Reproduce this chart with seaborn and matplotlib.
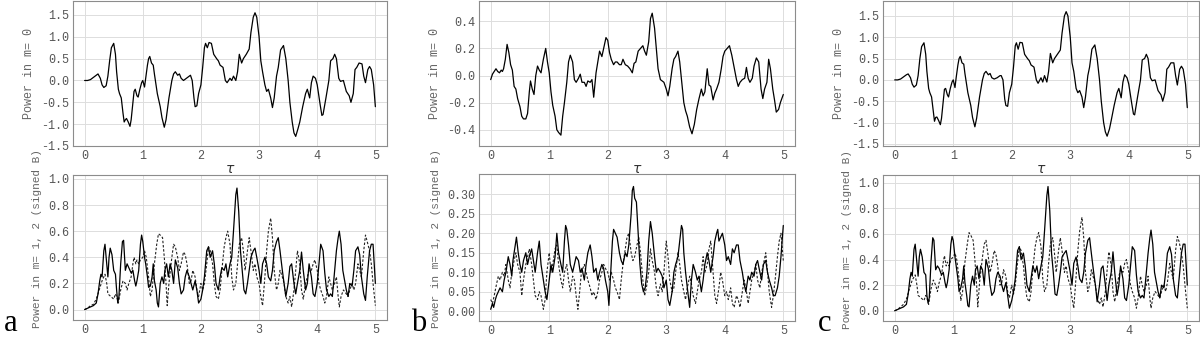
import matplotlib
matplotlib.use("Agg")
import matplotlib.pyplot as plt
import seaborn as sns
import pandas as pd
from matplotlib.ticker import FormatStrFormatter

# ---- data ----
# top row, panels a and c share the same time samples
tau_top_ac = [0, 0.05, 0.1, 0.15, 0.2, 0.23, 0.27, 0.3, 0.33, 0.37,
              0.4, 0.43, 0.46, 0.5, 0.53, 0.55, 0.58, 0.6, 0.63, 0.66,
              0.68, 0.7, 0.72, 0.75, 0.78, 0.8, 0.83, 0.85, 0.87, 0.9,
              0.92, 0.95, 0.98, 1.0, 1.03, 1.05, 1.08, 1.1, 1.12, 1.15,
              1.18, 1.2, 1.25, 1.3, 1.33, 1.37, 1.4, 1.45, 1.5, 1.53,
              1.56, 1.6, 1.63, 1.66, 1.7, 1.75, 1.8, 1.82, 1.85, 1.88,
              1.9, 1.93, 1.96, 2.0, 2.03, 2.06, 2.08, 2.11, 2.14, 2.18,
              2.22, 2.27, 2.3, 2.33, 2.38, 2.42, 2.45, 2.5, 2.53, 2.56,
              2.6, 2.63, 2.66, 2.7, 2.73, 2.78, 2.83, 2.86, 2.9, 2.93,
              2.96, 3.0, 3.03, 3.06, 3.1, 3.13, 3.16, 3.2, 3.23, 3.26,
              3.3, 3.33, 3.37, 3.42, 3.46, 3.5, 3.53, 3.57, 3.6, 3.63,
              3.67, 3.7, 3.75, 3.8, 3.83, 3.87, 3.9, 3.93, 3.97, 4.0,
              4.05, 4.08, 4.1, 4.15, 4.2, 4.23, 4.27, 4.3, 4.33, 4.37,
              4.4, 4.45, 4.5, 4.55, 4.58, 4.62, 4.65, 4.68, 4.72, 4.77,
              4.8, 4.83, 4.87, 4.9, 4.93, 4.97, 5.0]

a_m0 = [0.0, 0.0, 0.02, 0.07, 0.12, 0.15, 0.05, -0.1, -0.16, -0.12,
        0.1, 0.45, 0.75, 0.85, 0.6, 0.2, -0.2, -0.3, -0.4, -0.75,
        -0.95, -0.9, -0.87, -0.95, -1.05, -0.9, -0.5, -0.25, -0.2, -0.35,
        -0.38, -0.2, -0.05, 0.0, -0.15, 0.05, 0.35, 0.5, 0.55, 0.4,
        0.35, 0.15, -0.3, -0.6, -0.85, -1.07, -0.9, -0.4, 0.0, 0.15,
        0.2, 0.12, 0.15, 0.05, 0.0, 0.05, 0.1, 0.12, 0.0, -0.4,
        -0.6, -0.58, -0.3, -0.1, 0.3, 0.75, 0.85, 0.75, 0.87, 0.85,
        0.6, 0.5, 0.45, 0.35, 0.3, 0.0, -0.05, 0.05, 0.0, 0.1,
        0.0, 0.2, 0.6, 0.4, 0.5, 0.6, 0.72, 1.1, 1.45, 1.55,
        1.45, 1.0, 0.45, 0.2, -0.1, -0.25, -0.2, -0.4, -0.62, -0.4,
        0.1, 0.3, 0.7, 0.8, 0.5, 0.0, -0.5, -0.95, -1.2, -1.28,
        -1.1, -0.95, -0.6, -0.3, -0.2, -0.4, -0.05, 0.1, 0.05, -0.1,
        -0.55, -0.8, -0.78, -0.4, 0.0, 0.45, 0.5, 0.6, 0.5, 0.05,
        -0.02, 0.0, -0.25, -0.35, -0.5, -0.3, 0.25, 0.3, 0.4, 0.38,
        0.1, -0.05, 0.25, 0.32, 0.25, -0.1, -0.6]

c_m0 = [0.0, 0.0, 0.02, 0.07, 0.12, 0.14, 0.05, -0.1, -0.17, -0.12,
        0.1, 0.5, 0.78, 0.87, 0.6, 0.2, -0.2, -0.3, -0.4, -0.75,
        -0.97, -0.88, -0.87, -0.95, -1.05, -0.9, -0.5, -0.22, -0.2, -0.35,
        -0.4, -0.2, -0.05, 0.0, -0.18, 0.05, 0.35, 0.5, 0.55, 0.4,
        0.37, 0.15, -0.3, -0.6, -0.88, -1.1, -0.9, -0.4, 0.0, 0.15,
        0.2, 0.12, 0.15, 0.05, 0.02, 0.05, 0.1, 0.1, 0.0, -0.45,
        -0.6, -0.62, -0.3, -0.1, 0.3, 0.8, 0.87, 0.72, 0.88, 0.87,
        0.6, 0.5, 0.45, 0.35, 0.3, 0.0, -0.08, 0.05, -0.05, 0.1,
        -0.05, 0.2, 0.62, 0.4, 0.5, 0.6, 0.7, 1.1, 1.5, 1.6,
        1.5, 1.0, 0.4, 0.2, -0.2, -0.3, -0.25, -0.4, -0.65, -0.4,
        0.1, 0.3, 0.72, 0.82, 0.5, 0.0, -0.5, -1.0, -1.22, -1.32,
        -1.15, -0.95, -0.6, -0.3, -0.2, -0.42, -0.05, 0.12, 0.05, -0.1,
        -0.55, -0.8, -0.82, -0.4, 0.0, 0.47, 0.5, 0.6, 0.5, 0.05,
        -0.02, 0.0, -0.25, -0.35, -0.5, -0.3, 0.25, 0.3, 0.4, 0.4,
        0.1, -0.12, 0.25, 0.32, 0.25, -0.1, -0.65]

tau_top_b = [0.0, 0.03, 0.06, 0.09, 0.12, 0.15, 0.18, 0.2, 0.22, 0.25,
             0.28, 0.31, 0.34, 0.37, 0.4, 0.43, 0.46, 0.5, 0.53, 0.56,
             0.6, 0.63, 0.66, 0.68, 0.71, 0.74, 0.77, 0.8, 0.83, 0.86,
             0.9, 0.94, 0.97, 1.0, 1.03, 1.06, 1.1, 1.13, 1.16, 1.2,
             1.23, 1.26, 1.3, 1.33, 1.36, 1.4, 1.43, 1.46, 1.5, 1.53,
             1.56, 1.6, 1.63, 1.66, 1.7, 1.73, 1.76, 1.8, 1.83, 1.86,
             1.9, 1.93, 1.97, 2.0, 2.03, 2.06, 2.1, 2.13, 2.16, 2.2,
             2.23, 2.26, 2.3, 2.34, 2.38, 2.42, 2.45, 2.48, 2.52, 2.56,
             2.6, 2.63, 2.66, 2.7, 2.73, 2.76, 2.8, 2.83, 2.86, 2.9,
             2.93, 2.96, 3.0, 3.03, 3.06, 3.1, 3.13, 3.16, 3.2, 3.23,
             3.26, 3.3, 3.33, 3.36, 3.4, 3.44, 3.48, 3.52, 3.56, 3.6,
             3.63, 3.66, 3.7, 3.73, 3.76, 3.8, 3.83, 3.86, 3.9, 3.94,
             3.97, 4.0, 4.04, 4.08, 4.12, 4.16, 4.2, 4.23, 4.26, 4.3,
             4.34, 4.37, 4.4, 4.43, 4.47, 4.5, 4.54, 4.58, 4.62, 4.65,
             4.68, 4.72, 4.75, 4.78, 4.82, 4.85, 4.88, 4.92, 4.95, 5.0]

b_m0 = [-0.03, 0.01, 0.03, 0.05, 0.03, 0.02, 0.04, 0.03, 0.05, 0.12,
        0.23, 0.17, 0.08, 0.04, -0.08, -0.1, -0.17, -0.23, -0.3, -0.32,
        -0.32, -0.28, -0.12, -0.04, -0.1, -0.14, 0.0, 0.07, 0.04, 0.02,
        0.12, 0.2, 0.1, 0.02, -0.12, -0.22, -0.3, -0.4, -0.42, -0.44,
        -0.3, -0.2, -0.05, 0.1, 0.15, 0.1, -0.03, -0.05, -0.02, 0.01,
        -0.05, -0.05, -0.08, -0.04, -0.05, -0.03, -0.16, 0.02, 0.1, 0.18,
        0.14, 0.2, 0.28, 0.26, 0.17, 0.12, 0.08, 0.1, 0.1, 0.08,
        0.08, 0.12, 0.08, 0.07, 0.05, 0.02, 0.09, 0.1, 0.18, 0.2,
        0.22, 0.18, 0.15, 0.25, 0.42, 0.46, 0.35, 0.2, 0.05, -0.03,
        -0.04, -0.05, -0.1, -0.15, -0.08, 0.05, 0.12, 0.14, 0.18, 0.1,
        -0.03, -0.2, -0.26, -0.3, -0.38, -0.43, -0.36, -0.25, -0.17, -0.1,
        -0.15, -0.12, 0.05, -0.07, -0.08, -0.18, -0.13, -0.1, -0.05, 0.05,
        0.14, 0.18, 0.2, 0.22, 0.15, 0.06, -0.03, -0.08, -0.05, -0.03,
        -0.02, 0.06, -0.02, -0.05, -0.02, 0.07, 0.13, 0.1, -0.1, -0.17,
        -0.1, -0.05, 0.12, 0.05, -0.1, -0.18, -0.27, -0.25, -0.2, -0.14]

# bottom row, panels a and c: solid (m=1) and dashed (m=2)
tau_solid_ac = [0.0, 0.05, 0.1, 0.15, 0.2, 0.23, 0.26, 0.28, 0.3, 0.33,
                0.35, 0.37, 0.4, 0.42, 0.44, 0.47, 0.5, 0.53, 0.55, 0.57,
                0.59, 0.62, 0.65, 0.67, 0.7, 0.73, 0.76, 0.8, 0.83, 0.86,
                0.88, 0.9, 0.93, 0.96, 0.98, 1.0, 1.03, 1.05, 1.08, 1.1,
                1.13, 1.16, 1.18, 1.2, 1.23, 1.25, 1.27, 1.3, 1.33, 1.36,
                1.38, 1.41, 1.44, 1.47, 1.5, 1.53, 1.56, 1.6, 1.63, 1.66,
                1.7, 1.73, 1.76, 1.8, 1.83, 1.86, 1.9, 1.93, 1.96, 2.0,
                2.03, 2.06, 2.1, 2.13, 2.16, 2.2, 2.23, 2.26, 2.3, 2.33,
                2.36, 2.4, 2.43, 2.46, 2.5, 2.53, 2.56, 2.6, 2.62, 2.65,
                2.68, 2.71, 2.74, 2.77, 2.8, 2.83, 2.86, 2.9, 2.93, 2.96,
                3.0, 3.03, 3.06, 3.1, 3.13, 3.16, 3.2, 3.23, 3.26, 3.3,
                3.33, 3.36, 3.4, 3.43, 3.46, 3.5, 3.53, 3.56, 3.6, 3.63,
                3.66, 3.7, 3.73, 3.76, 3.8, 3.83, 3.86, 3.9, 3.93, 3.96,
                4.0, 4.03, 4.06, 4.1, 4.13, 4.16, 4.2, 4.23, 4.26, 4.3,
                4.33, 4.36, 4.38, 4.41, 4.44, 4.48, 4.5, 4.53, 4.56, 4.6,
                4.63, 4.66, 4.7, 4.73, 4.76, 4.8, 4.83, 4.86, 4.9, 4.93,
                4.96, 5.0]

a_m1 = [0.0, 0.01, 0.02, 0.03, 0.05, 0.12, 0.22, 0.27, 0.25, 0.45,
        0.5, 0.4, 0.25, 0.4, 0.47, 0.42, 0.3, 0.27, 0.15, 0.05,
        0.1, 0.35, 0.52, 0.53, 0.3, 0.35, 0.32, 0.28, 0.3, 0.22,
        0.18, 0.22, 0.3, 0.5, 0.57, 0.52, 0.4, 0.35, 0.25, 0.17,
        0.18, 0.25, 0.35, 0.22, 0.15, 0.05, 0.02, 0.2, 0.25, 0.2,
        0.3, 0.35, 0.25, 0.35, 0.3, 0.2, 0.38, 0.32, 0.2, 0.12,
        0.15, 0.25, 0.3, 0.25, 0.2, 0.15, 0.22, 0.15, 0.05, 0.08,
        0.15, 0.25, 0.45, 0.48, 0.4, 0.45, 0.35, 0.2, 0.15, 0.25,
        0.32, 0.3, 0.35, 0.25, 0.35, 0.4, 0.6, 0.88, 0.93, 0.75,
        0.45, 0.3, 0.15, 0.12, 0.2, 0.3, 0.4, 0.45, 0.47, 0.4,
        0.3, 0.2, 0.35, 0.4, 0.35, 0.25, 0.22, 0.3, 0.45, 0.52,
        0.55, 0.45, 0.3, 0.2, 0.1, 0.2, 0.33, 0.35, 0.2, 0.12,
        0.2, 0.3, 0.44, 0.3, 0.15, 0.2, 0.35, 0.25, 0.12, 0.1,
        0.2, 0.35, 0.5, 0.45, 0.28, 0.15, 0.1, 0.12, 0.1, 0.3,
        0.45, 0.55, 0.6, 0.5, 0.3, 0.2, 0.15, 0.1, 0.2, 0.18,
        0.3, 0.45, 0.48, 0.42, 0.25, 0.12, 0.07, 0.25, 0.45, 0.5,
        0.5, 0.2]

c_m1 = [0.0, 0.01, 0.02, 0.03, 0.05, 0.13, 0.25, 0.3, 0.27, 0.48,
        0.52, 0.42, 0.27, 0.42, 0.48, 0.42, 0.3, 0.28, 0.12, 0.06,
        0.1, 0.38, 0.57, 0.55, 0.32, 0.35, 0.33, 0.28, 0.3, 0.22,
        0.18, 0.22, 0.32, 0.52, 0.58, 0.55, 0.42, 0.35, 0.25, 0.15,
        0.18, 0.25, 0.35, 0.22, 0.12, 0.04, 0.03, 0.2, 0.27, 0.2,
        0.32, 0.35, 0.25, 0.35, 0.32, 0.2, 0.4, 0.33, 0.2, 0.12,
        0.15, 0.25, 0.3, 0.27, 0.2, 0.15, 0.22, 0.12, 0.02, 0.08,
        0.15, 0.25, 0.47, 0.5, 0.4, 0.45, 0.35, 0.2, 0.15, 0.25,
        0.35, 0.3, 0.35, 0.25, 0.35, 0.42, 0.62, 0.9, 0.97, 0.78,
        0.45, 0.3, 0.13, 0.12, 0.2, 0.3, 0.42, 0.45, 0.47, 0.4,
        0.3, 0.2, 0.37, 0.42, 0.35, 0.25, 0.22, 0.3, 0.45, 0.55,
        0.57, 0.45, 0.3, 0.2, 0.07, 0.2, 0.33, 0.35, 0.2, 0.08,
        0.2, 0.3, 0.46, 0.3, 0.12, 0.2, 0.35, 0.25, 0.1, 0.08,
        0.2, 0.35, 0.5, 0.47, 0.28, 0.15, 0.1, 0.12, 0.1, 0.3,
        0.45, 0.57, 0.63, 0.52, 0.3, 0.2, 0.15, 0.1, 0.2, 0.18,
        0.3, 0.45, 0.5, 0.44, 0.25, 0.12, 0.1, 0.25, 0.45, 0.52,
        0.52, 0.2]

tau_dash_ac = [0.0, 0.05, 0.1, 0.15, 0.2, 0.25, 0.3, 0.35, 0.38, 0.4,
               0.45, 0.5, 0.53, 0.55, 0.58, 0.62, 0.66, 0.7, 0.73, 0.76,
               0.8, 0.83, 0.85, 0.88, 0.9, 0.93, 0.96, 1.0, 1.03, 1.06,
               1.1, 1.13, 1.16, 1.2, 1.24, 1.27, 1.3, 1.34, 1.37, 1.4,
               1.42, 1.45, 1.5, 1.53, 1.56, 1.6, 1.63, 1.66, 1.7, 1.73,
               1.76, 1.8, 1.83, 1.86, 1.9, 1.93, 1.96, 2.0, 2.03, 2.06,
               2.1, 2.13, 2.16, 2.2, 2.23, 2.26, 2.3, 2.33, 2.36, 2.4,
               2.43, 2.46, 2.5, 2.53, 2.56, 2.6, 2.63, 2.66, 2.7, 2.73,
               2.76, 2.8, 2.83, 2.86, 2.9, 2.93, 2.96, 3.0, 3.03, 3.06,
               3.1, 3.13, 3.16, 3.2, 3.23, 3.26, 3.3, 3.33, 3.36, 3.4,
               3.43, 3.46, 3.5, 3.53, 3.56, 3.6, 3.63, 3.66, 3.7, 3.73,
               3.76, 3.8, 3.83, 3.86, 3.9, 3.93, 3.96, 4.0, 4.03, 4.06,
               4.1, 4.13, 4.16, 4.2, 4.23, 4.26, 4.3, 4.33, 4.36, 4.38,
               4.41, 4.45, 4.5, 4.53, 4.56, 4.6, 4.63, 4.66, 4.7, 4.73,
               4.76, 4.8, 4.83, 4.86, 4.9, 4.93, 4.96, 5.0]

a_m2 = [0.0, 0.01, 0.03, 0.04, 0.08, 0.15, 0.22, 0.27, 0.2, 0.12,
        0.1, 0.08, 0.12, 0.1, 0.05, 0.15, 0.22, 0.2, 0.15, 0.2,
        0.25, 0.35, 0.4, 0.35, 0.38, 0.35, 0.38, 0.4, 0.45, 0.4,
        0.25, 0.1, 0.15, 0.35, 0.5, 0.58, 0.57, 0.55, 0.4, 0.2,
        0.03, 0.2, 0.4, 0.5, 0.48, 0.4, 0.3, 0.35, 0.44, 0.42,
        0.35, 0.2, 0.22, 0.3, 0.25, 0.15, 0.1, 0.2, 0.15, 0.2,
        0.35, 0.48, 0.45, 0.35, 0.2, 0.1, 0.08, 0.15, 0.3, 0.48,
        0.55, 0.6, 0.5, 0.25, 0.15, 0.2, 0.35, 0.5, 0.55, 0.45,
        0.3, 0.45, 0.55, 0.45, 0.3, 0.35, 0.25, 0.2, 0.1, 0.03,
        0.25, 0.45, 0.6, 0.7, 0.55, 0.3, 0.15, 0.2, 0.3, 0.25,
        0.2, 0.1, 0.05, 0.1, 0.02, 0.15, 0.3, 0.45, 0.35, 0.15,
        0.08, 0.2, 0.25, 0.3, 0.3, 0.35, 0.38, 0.3, 0.2, 0.15,
        0.1, 0.05, 0.1, 0.25, 0.2, 0.15, 0.2, 0.25, 0.1, 0.02,
        0.1, 0.15, 0.12, 0.1, 0.15, 0.2, 0.15, 0.2, 0.35, 0.3,
        0.25, 0.45, 0.57, 0.52, 0.45, 0.35, 0.2, 0.03]

c_m2 = [0.0, 0.01, 0.03, 0.05, 0.09, 0.17, 0.24, 0.28, 0.2, 0.12,
        0.1, 0.08, 0.12, 0.1, 0.05, 0.17, 0.24, 0.2, 0.15, 0.22,
        0.28, 0.38, 0.43, 0.35, 0.38, 0.35, 0.4, 0.42, 0.45, 0.4,
        0.25, 0.08, 0.15, 0.38, 0.52, 0.61, 0.59, 0.55, 0.4, 0.2,
        0.03, 0.22, 0.42, 0.52, 0.55, 0.42, 0.3, 0.36, 0.47, 0.44,
        0.35, 0.2, 0.22, 0.32, 0.27, 0.15, 0.1, 0.2, 0.13, 0.2,
        0.38, 0.5, 0.47, 0.35, 0.2, 0.1, 0.07, 0.15, 0.32, 0.5,
        0.57, 0.61, 0.5, 0.25, 0.15, 0.2, 0.37, 0.52, 0.57, 0.45,
        0.3, 0.47, 0.57, 0.47, 0.3, 0.35, 0.25, 0.2, 0.1, 0.02,
        0.27, 0.47, 0.62, 0.73, 0.57, 0.3, 0.15, 0.2, 0.32, 0.25,
        0.2, 0.1, 0.05, 0.1, 0.03, 0.15, 0.32, 0.46, 0.35, 0.15,
        0.07, 0.2, 0.27, 0.32, 0.3, 0.37, 0.4, 0.3, 0.2, 0.15,
        0.1, 0.02, 0.1, 0.27, 0.2, 0.15, 0.2, 0.27, 0.1, 0.02,
        0.1, 0.15, 0.12, 0.1, 0.15, 0.2, 0.15, 0.22, 0.37, 0.3,
        0.25, 0.47, 0.58, 0.54, 0.45, 0.35, 0.2, 0.02]

# bottom row, panel b
tau_solid_b = [0.0, 0.03, 0.05, 0.08, 0.1, 0.13, 0.16, 0.2, 0.23, 0.26,
               0.3, 0.33, 0.36, 0.38, 0.41, 0.44, 0.47, 0.5, 0.53, 0.56,
               0.6, 0.63, 0.66, 0.7, 0.73, 0.76, 0.8, 0.83, 0.86, 0.9,
               0.93, 0.96, 1.0, 1.03, 1.06, 1.1, 1.13, 1.16, 1.2, 1.23,
               1.26, 1.28, 1.3, 1.33, 1.36, 1.4, 1.43, 1.46, 1.5, 1.53,
               1.56, 1.6, 1.63, 1.66, 1.7, 1.73, 1.76, 1.8, 1.83, 1.86,
               1.9, 1.93, 1.96, 2.0, 2.02, 2.05, 2.08, 2.1, 2.13, 2.16,
               2.2, 2.23, 2.26, 2.3, 2.33, 2.36, 2.4, 2.42, 2.44, 2.46,
               2.49, 2.52, 2.55, 2.58, 2.61, 2.64, 2.67, 2.7, 2.73, 2.76,
               2.8, 2.83, 2.86, 2.9, 2.93, 2.96, 3.0, 3.03, 3.06, 3.1,
               3.13, 3.16, 3.2, 3.23, 3.26, 3.28, 3.3, 3.33, 3.36, 3.4,
               3.43, 3.46, 3.5, 3.53, 3.56, 3.6, 3.63, 3.66, 3.7, 3.73,
               3.76, 3.8, 3.83, 3.86, 3.88, 3.9, 3.93, 3.96, 4.0, 4.03,
               4.06, 4.1, 4.13, 4.16, 4.2, 4.23, 4.26, 4.3, 4.33, 4.36,
               4.4, 4.43, 4.46, 4.5, 4.53, 4.56, 4.6, 4.63, 4.66, 4.7,
               4.73, 4.76, 4.8, 4.83, 4.86, 4.9, 4.93, 4.96, 5.0]

b_m1 = [0.005, 0.02, 0.01, 0.03, 0.04, 0.05, 0.06, 0.05, 0.08, 0.1,
        0.14, 0.12, 0.09, 0.13, 0.16, 0.19, 0.15, 0.12, 0.1, 0.13,
        0.15, 0.12, 0.14, 0.16, 0.13, 0.1, 0.15, 0.18, 0.12, 0.08,
        0.05, 0.03, 0.08, 0.12, 0.1, 0.14, 0.2, 0.15, 0.12, 0.1,
        0.18, 0.22, 0.21, 0.17, 0.12, 0.1, 0.12, 0.14, 0.13, 0.1,
        0.11, 0.08, 0.12, 0.15, 0.17, 0.14, 0.1, 0.11, 0.08, 0.1,
        0.12, 0.11, 0.08, 0.05, 0.015, 0.1, 0.18, 0.21, 0.2, 0.19,
        0.15, 0.13, 0.12, 0.15, 0.14, 0.17, 0.25, 0.31, 0.32, 0.29,
        0.28, 0.2, 0.12, 0.07, 0.05, 0.06, 0.1, 0.18, 0.23, 0.2,
        0.14, 0.1, 0.11, 0.1, 0.09, 0.06, 0.08, 0.03, 0.015, 0.05,
        0.1, 0.12, 0.14, 0.18, 0.22, 0.21, 0.15, 0.1, 0.06, 0.01,
        0.08, 0.12, 0.1, 0.08, 0.09, 0.05, 0.08, 0.12, 0.15, 0.13,
        0.1, 0.14, 0.18, 0.2, 0.21, 0.18, 0.19, 0.2, 0.17, 0.13,
        0.14, 0.12, 0.16, 0.15, 0.17, 0.17, 0.13, 0.1, 0.07, 0.05,
        0.09, 0.08, 0.1, 0.09, 0.12, 0.13, 0.1, 0.08, 0.12, 0.13,
        0.1, 0.08, 0.06, 0.04, 0.04, 0.06, 0.09, 0.14, 0.22]

tau_dash_b = [0.0, 0.03, 0.06, 0.1, 0.13, 0.16, 0.2, 0.23, 0.26, 0.3,
              0.33, 0.36, 0.4, 0.43, 0.46, 0.5, 0.53, 0.56, 0.6, 0.63,
              0.66, 0.7, 0.73, 0.76, 0.8, 0.83, 0.86, 0.9, 0.93, 0.96,
              1.0, 1.03, 1.06, 1.1, 1.13, 1.16, 1.2, 1.23, 1.26, 1.3,
              1.33, 1.36, 1.4, 1.43, 1.46, 1.49, 1.52, 1.55, 1.6, 1.63,
              1.66, 1.7, 1.73, 1.76, 1.8, 1.83, 1.86, 1.9, 1.93, 1.96,
              2.0, 2.03, 2.06, 2.1, 2.13, 2.16, 2.2, 2.23, 2.26, 2.3,
              2.33, 2.36, 2.4, 2.43, 2.46, 2.5, 2.53, 2.56, 2.6, 2.63,
              2.66, 2.7, 2.73, 2.76, 2.8, 2.83, 2.86, 2.9, 2.93, 2.96,
              3.0, 3.03, 3.06, 3.1, 3.13, 3.16, 3.2, 3.23, 3.26, 3.3,
              3.33, 3.36, 3.4, 3.43, 3.46, 3.5, 3.53, 3.56, 3.6, 3.63,
              3.66, 3.7, 3.73, 3.76, 3.8, 3.83, 3.86, 3.9, 3.93, 3.96,
              4.0, 4.03, 4.06, 4.1, 4.13, 4.16, 4.2, 4.23, 4.26, 4.3,
              4.33, 4.36, 4.4, 4.43, 4.46, 4.5, 4.53, 4.56, 4.6, 4.63,
              4.66, 4.7, 4.73, 4.76, 4.8, 4.83, 4.86, 4.9, 4.93, 4.96,
              5.0]

b_m2 = [0.03, 0.02, 0.04, 0.07, 0.09, 0.08, 0.1, 0.09, 0.12, 0.08,
        0.06, 0.1, 0.13, 0.15, 0.12, 0.1, 0.04, 0.08, 0.12, 0.14,
        0.16, 0.12, 0.08, 0.04, 0.03, 0.05, 0.04, 0.005, 0.03, 0.1,
        0.15, 0.1, 0.12, 0.16, 0.17, 0.12, 0.08, 0.06, 0.1, 0.12,
        0.08, 0.05, 0.09, 0.08, 0.04, 0.005, 0.05, 0.1, 0.12, 0.1,
        0.08, 0.06, 0.04, 0.05, 0.03, 0.05, 0.08, 0.1, 0.12, 0.11,
        0.1, 0.08, 0.1, 0.08, 0.06, 0.05, 0.03, 0.08, 0.12, 0.16,
        0.19, 0.2, 0.15, 0.13, 0.14, 0.17, 0.19, 0.15, 0.08, 0.04,
        0.06, 0.1, 0.16, 0.13, 0.1, 0.06, 0.04, 0.07, 0.05, 0.1,
        0.18, 0.14, 0.08, 0.05, 0.06, 0.1, 0.15, 0.12, 0.08, 0.05,
        0.03, 0.06, 0.09, 0.07, 0.04, 0.02, 0.05, 0.08, 0.1, 0.14,
        0.1, 0.12, 0.16, 0.18, 0.1, 0.04, 0.02, 0.06, 0.1, 0.08,
        0.04, 0.05, 0.03, 0.06, 0.02, 0.01, 0.04, 0.03, 0.01, 0.05,
        0.08, 0.06, 0.02, 0.05, 0.08, 0.1, 0.12, 0.08, 0.06, 0.1,
        0.12, 0.15, 0.1, 0.05, 0.01, 0.04, 0.08, 0.14, 0.18, 0.2,
        0.13]

panel_letters = ["a", "b", "c"]
top_ylabel = "Power in m= 0"
bottom_ylabel = "Power in m= 1, 2 (signed B)"

# ---- figure ----
sns.set_theme(style="whitegrid")
plt.rcParams["font.family"] = ["Liberation Mono", "DejaVu Sans"]

W, H = 1200, 339
fig = plt.figure(figsize=(W / 100, H / 100), dpi=100)
fig.patch.set_facecolor("white")


def box(left, top, right, bottom):
    # pixel box -> figure fraction
    return [left / W, (H - bottom) / H, (right - left) / W, (bottom - top) / H]


def tidy(ax, ylim, yticks, fmt, ylabel, lab_size=8.5):
    ax.set_xlim(-0.2, 5.2)
    ax.set_xticks(range(6))
    ax.set_ylim(ylim)
    ax.set_yticks(yticks)
    ax.yaxis.set_major_formatter(FormatStrFormatter(fmt))
    ax.set_facecolor("white")
    ax.grid(True, color="#dddddd", lw=0.7)
    for s in ax.spines.values():
        s.set_color("#8c8c8c")
        s.set_linewidth(0.8)
    ax.tick_params(axis="both", labelsize=8.5, labelcolor="#555555", length=0, pad=3)
    ax.set_ylabel(ylabel, fontsize=lab_size, color="#666666", labelpad=4)
    ax.set_xlabel("")


def top_panel(rect, tau, vals, ylim, yticks, fmt):
    ax = fig.add_axes(rect)
    d = pd.DataFrame({"tau": tau, "p": vals})
    sns.lineplot(data=d, x="tau", y="p", ax=ax, color="black", lw=0.9, estimator=None)
    tidy(ax, ylim, yticks, fmt, top_ylabel)
    ax.set_xlabel(r"$\tau$", fontsize=10, color="#333333", labelpad=0)
    return ax


def bottom_panel(rect, t1, v1, t2, v2, ylim, yticks, fmt):
    ax = fig.add_axes(rect)
    d1 = pd.DataFrame({"tau": t1, "p": v1})
    d2 = pd.DataFrame({"tau": t2, "p": v2})
    sns.lineplot(data=d2, x="tau", y="p", ax=ax, color="#222222", lw=0.8,
                 estimator=None, linestyle=(0, (2.2, 1.6)))
    sns.lineplot(data=d1, x="tau", y="p", ax=ax, color="black", lw=0.9, estimator=None)
    tidy(ax, ylim, yticks, fmt, bottom_ylabel, lab_size=8.0)
    # long label: nudge it up a little so it stays inside the figure
    ax.yaxis.label.set_y(0.56)
    return ax


top_panel(box(73, 1, 387, 146), tau_top_ac, a_m0, (-1.5, 1.82),
          [-1.5, -1.0, -0.5, 0.0, 0.5, 1.0, 1.5], "%.1f")
top_panel(box(479, 1, 795, 146), tau_top_b, b_m0, (-0.52, 0.55),
          [-0.4, -0.2, 0.0, 0.2, 0.4], "%.1f")
top_panel(box(883, 1, 1199, 146), tau_top_ac, c_m0, (-1.55, 1.85),
          [-1.5, -1.0, -0.5, 0.0, 0.5, 1.0, 1.5], "%.1f")

bottom_panel(box(73, 175, 387, 320), tau_solid_ac, a_m1, tau_dash_ac, a_m2,
             (-0.08, 1.03), [0.0, 0.2, 0.4, 0.6, 0.8, 1.0], "%.1f")
bottom_panel(box(479, 174, 795, 321), tau_solid_b, b_m1, tau_dash_b, b_m2,
             (-0.025, 0.352), [0.0, 0.05, 0.10, 0.15, 0.20, 0.25, 0.30], "%.2f")
bottom_panel(box(883, 175, 1199, 321), tau_solid_ac, c_m1, tau_dash_ac, c_m2,
             (-0.08, 1.06), [0.0, 0.2, 0.4, 0.6, 0.8, 1.0], "%.1f")

for letter, xpx in zip(panel_letters, [4, 411, 818]):
    fig.text(xpx / W, 1 / H, letter, fontsize=22, family="Liberation Serif",
             color="black", va="bottom", ha="left")

fig.savefig("out.png", dpi=100, facecolor="white")
